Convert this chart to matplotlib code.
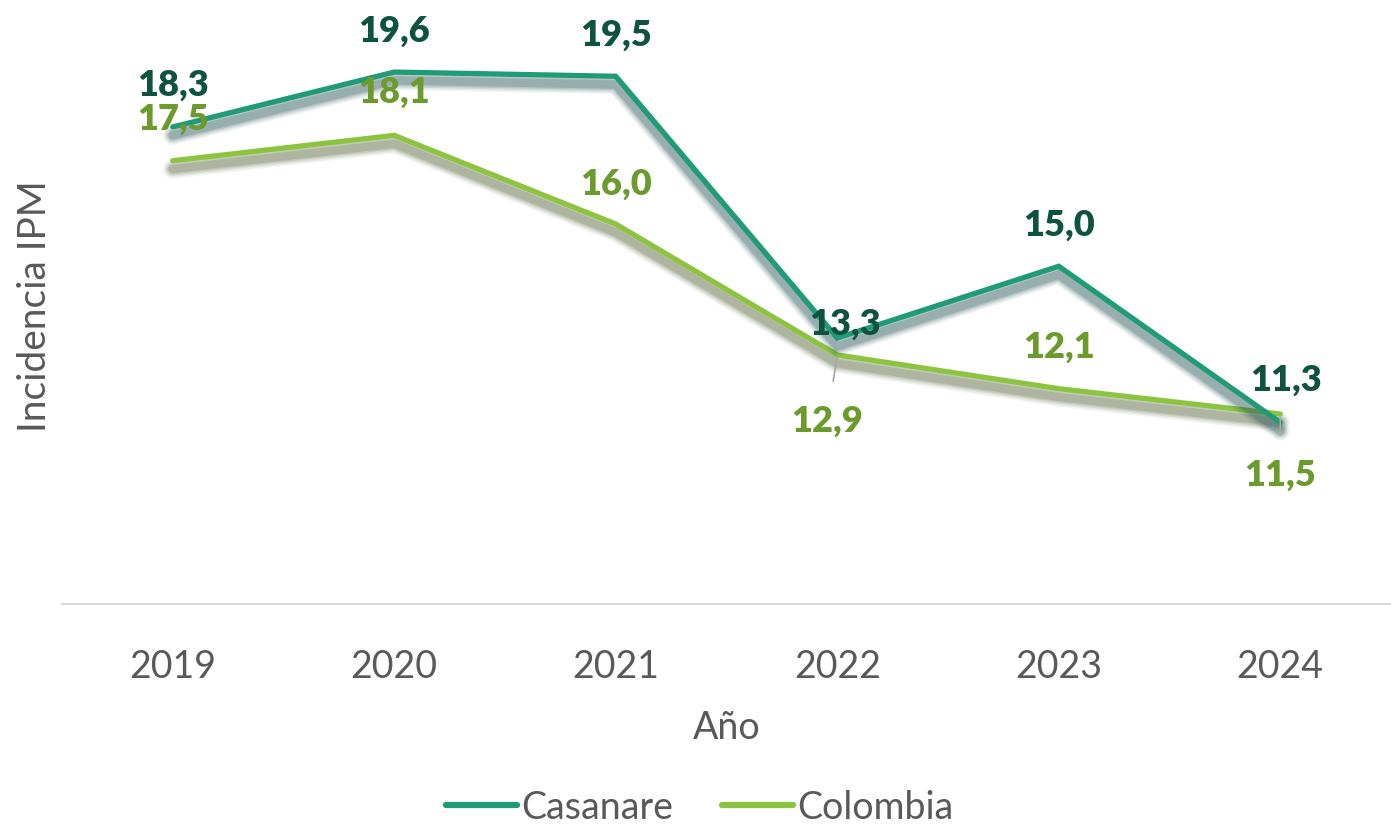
import matplotlib
matplotlib.use("Agg")
import matplotlib.pyplot as plt
import matplotlib.patheffects as pe

plt.rcParams['font.family'] = ['Lato', 'DejaVu Sans']

years = ["2019", "2020", "2021", "2022", "2023", "2024"]
casanare = [18.3, 19.6, 19.5, 13.3, 15.0, 11.3]
colombia = [17.5, 18.1, 16.0, 12.9, 12.1, 11.5]
casanare_labels = ["18,3", "19,6", "19,5", "13,3", "15,0", "11,3"]
colombia_labels = ["17,5", "18,1", "16,0", "12,9", "12,1", "11,5"]

c_cas = "#1F9C77"
c_cas_lab = "#0E5240"
c_col = "#8CC43F"
c_col_lab = "#6B9A2D"

fig = plt.figure(figsize=(13.91, 8.29), dpi=100)
ax = fig.add_axes([62/1391, 1-605/829, 1-62/1391, (605-11)/829])

x = list(range(len(years)))

def shadow_effects(color):
    effs = []
    for lw, a in [(14, 0.06), (12, 0.08), (10, 0.11), (8, 0.15), (6, 0.2)]:
        effs.append(pe.SimpleLineShadow(offset=(0, -6), shadow_color=color, alpha=a, linewidth=lw))
    effs.append(pe.Normal())
    return effs

ax.plot(x, colombia, color=c_col, lw=3.8, solid_capstyle='round', solid_joinstyle='miter',
        path_effects=shadow_effects("#56663a"), label="Colombia", zorder=3)
ax.plot(x, casanare, color=c_cas, lw=3.8, solid_capstyle='round', solid_joinstyle='miter',
        path_effects=shadow_effects("#2a5656"), label="Casanare", zorder=4)

fs_lab = 26
# Casanare labels
cas_off = [(0, 43), (0, 42), (0, 42), (8, 15), (0, 42), (6, 43)]
for i, (v, t) in enumerate(zip(casanare, casanare_labels)):
    ax.annotate(t, (i, v), xytext=cas_off[i], textcoords='offset pixels',
                ha='center', va='center', fontsize=fs_lab, fontweight='heavy',
                color=c_cas_lab, zorder=6)
# Colombia labels
col_off = [(0, 42), (0, 44), (0, 41), (-10, -65), (0, 42), (0, -60)]
for i, (v, t) in enumerate(zip(colombia, colombia_labels)):
    lead = None
    if col_off[i][1] < 0:
        lead = dict(arrowstyle='-', color='#A6A6A6', lw=1.2, shrinkA=14, shrinkB=2)
    ax.annotate(t, (i, v), xytext=col_off[i], textcoords='offset pixels',
                ha='center', va='center', fontsize=fs_lab, fontweight='heavy',
                color=c_col_lab, zorder=6, arrowprops=lead)

ax.set_xlim(-0.5, 5.5)
ax.set_ylim(7, 21.07)
ax.set_xticks(x)
ax.set_xticklabels(years, fontsize=27, color="#595959")
ax.tick_params(axis='x', length=0, pad=32)
ax.set_yticks([])
for s in ['top', 'right', 'left']:
    ax.spines[s].set_visible(False)
ax.spines['bottom'].set_color('#D9D9D9')
ax.spines['bottom'].set_linewidth(1.5)

ax.set_xlabel("Año", fontsize=27, color="#595959", labelpad=18)
fig.text(35/1391, 1-306/829, "Incidencia IPM", rotation=90, fontsize=28,
         color="#595959", ha='center', va='center')

handles, labels = ax.get_legend_handles_labels()
leg = fig.legend(handles[::-1], labels[::-1], loc='center', bbox_to_anchor=(0.503, 1-808/829),
                 ncol=2, frameon=False, fontsize=27, labelcolor="#595959",
                 handlelength=1.9, handletextpad=0.1, columnspacing=1.3)
for h in leg.legend_handles:
    h.set_path_effects([])
    h.set_linewidth(4.5)

fig.savefig("out.png", dpi=100)
